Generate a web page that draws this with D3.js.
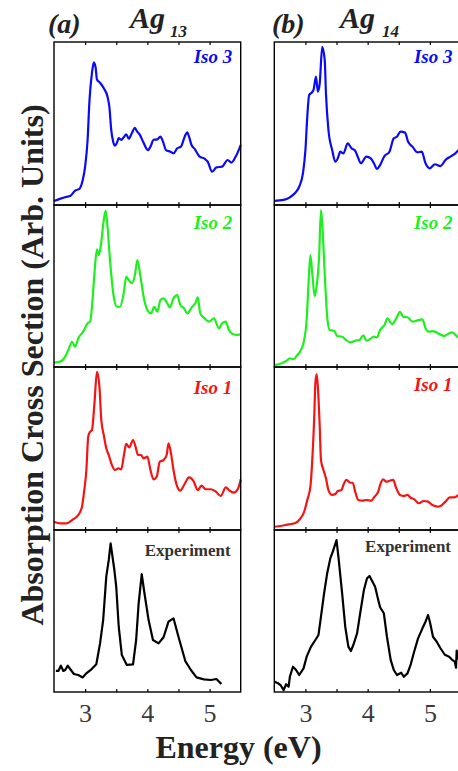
<!DOCTYPE html>
<html>
<head>
<meta charset="utf-8">
<script src="https://cdn.jsdelivr.net/npm/d3@7"></script>
<style>
  html, body { margin: 0; padding: 0; background: #fff; }
  svg { display: block; }
</style>
</head>
<body>
<svg id="chart" width="458" height="771"></svg>
<script>
// Energy axis ticks (eV)
const energyTicks = [3, 3.5, 4, 4.5, 5];
const energyTickLabels = [3, 4, 5];

// Ag13 spectra: [energy (eV), relative intensity]
const ag13Iso3 = [[2.5,0.025],[2.7,0.05],[2.76,0.055],[2.84,0.088],[2.91,0.1],[2.96,0.15],[3.0,0.235],[3.04,0.4],[3.07,0.64],[3.11,0.81],[3.14,0.875],[3.17,0.84],[3.19,0.77],[3.24,0.75],[3.3,0.716],[3.36,0.664],[3.39,0.6],[3.42,0.46],[3.45,0.39],[3.48,0.364],[3.51,0.38],[3.54,0.41],[3.58,0.4],[3.62,0.415],[3.66,0.434],[3.7,0.407],[3.75,0.44],[3.8,0.474],[3.83,0.454],[3.88,0.43],[3.93,0.39],[4.01,0.337],[4.05,0.358],[4.1,0.4],[4.16,0.403],[4.21,0.419],[4.25,0.39],[4.3,0.337],[4.37,0.327],[4.42,0.317],[4.48,0.348],[4.54,0.358],[4.6,0.419],[4.64,0.446],[4.67,0.419],[4.71,0.368],[4.76,0.344],[4.84,0.297],[4.92,0.284],[4.97,0.266],[5.04,0.204],[5.11,0.231],[5.2,0.235],[5.29,0.276],[5.35,0.26],[5.42,0.297],[5.5,0.368]];

const ag13Iso2 = [[2.5,0.027],[2.6,0.033],[2.68,0.064],[2.73,0.105],[2.79,0.156],[2.84,0.125],[2.89,0.177],[2.97,0.218],[3.04,0.27],[3.08,0.28],[3.11,0.372],[3.15,0.578],[3.19,0.726],[3.22,0.69],[3.25,0.743],[3.3,0.907],[3.33,0.965],[3.36,0.866],[3.4,0.66],[3.46,0.434],[3.51,0.372],[3.56,0.372],[3.62,0.455],[3.66,0.557],[3.7,0.537],[3.75,0.517],[3.8,0.568],[3.84,0.66],[3.89,0.557],[3.94,0.434],[4.0,0.352],[4.06,0.331],[4.11,0.372],[4.16,0.341],[4.21,0.414],[4.26,0.424],[4.32,0.393],[4.36,0.368],[4.42,0.424],[4.48,0.444],[4.53,0.383],[4.59,0.362],[4.64,0.331],[4.72,0.372],[4.77,0.393],[4.81,0.43],[4.85,0.331],[4.92,0.3],[4.99,0.28],[5.07,0.3],[5.15,0.239],[5.2,0.27],[5.26,0.28],[5.31,0.228],[5.37,0.204],[5.45,0.198],[5.5,0.204]];

const ag13Iso1 = [[2.5,0.051],[2.6,0.041],[2.7,0.041],[2.81,0.066],[2.89,0.092],[2.95,0.143],[2.98,0.225],[3.02,0.368],[3.05,0.572],[3.08,0.603],[3.11,0.613],[3.15,0.777],[3.19,0.971],[3.23,0.88],[3.26,0.675],[3.3,0.583],[3.34,0.501],[3.38,0.46],[3.43,0.399],[3.48,0.368],[3.54,0.378],[3.58,0.372],[3.62,0.45],[3.66,0.528],[3.71,0.507],[3.77,0.552],[3.81,0.511],[3.85,0.46],[3.9,0.46],[3.94,0.44],[4.0,0.45],[4.05,0.368],[4.1,0.311],[4.15,0.327],[4.2,0.419],[4.26,0.429],[4.31,0.46],[4.34,0.532],[4.38,0.47],[4.42,0.368],[4.48,0.266],[4.53,0.241],[4.59,0.276],[4.67,0.323],[4.74,0.302],[4.81,0.245],[4.87,0.272],[4.94,0.25],[5.02,0.25],[5.1,0.235],[5.18,0.209],[5.26,0.262],[5.31,0.245],[5.39,0.229],[5.46,0.256],[5.5,0.311]];

const ag13Exp = [[2.53,0.13],[2.57,0.13],[2.61,0.162],[2.65,0.13],[2.68,0.136],[2.72,0.162],[2.76,0.142],[2.82,0.111],[2.89,0.105],[2.96,0.09],[3.02,0.115],[3.09,0.136],[3.18,0.171],[3.24,0.3],[3.29,0.444],[3.34,0.712],[3.38,0.815],[3.41,0.918],[3.47,0.753],[3.5,0.65],[3.54,0.403],[3.59,0.228],[3.67,0.167],[3.77,0.171],[3.82,0.321],[3.86,0.547],[3.91,0.727],[3.95,0.619],[4.02,0.444],[4.09,0.321],[4.18,0.3],[4.26,0.338],[4.34,0.434],[4.42,0.455],[4.5,0.341],[4.61,0.191],[4.7,0.136],[4.79,0.09],[4.91,0.078],[5.02,0.074],[5.11,0.08],[5.19,0.049]];

// Ag14 spectra: [energy (eV), relative intensity]
const ag14Iso3 = [[2.5,0.025],[2.65,0.031],[2.75,0.047],[2.83,0.072],[2.9,0.112],[2.96,0.194],[3.0,0.337],[3.03,0.542],[3.06,0.675],[3.1,0.689],[3.13,0.706],[3.17,0.787],[3.2,0.695],[3.23,0.746],[3.27,0.971],[3.31,0.89],[3.33,0.685],[3.37,0.46],[3.43,0.337],[3.48,0.266],[3.52,0.286],[3.56,0.327],[3.61,0.317],[3.68,0.378],[3.74,0.348],[3.8,0.333],[3.84,0.297],[3.89,0.256],[3.98,0.297],[4.05,0.286],[4.1,0.256],[4.15,0.221],[4.2,0.245],[4.27,0.3],[4.35,0.327],[4.42,0.409],[4.47,0.419],[4.53,0.45],[4.6,0.444],[4.65,0.388],[4.72,0.358],[4.8,0.323],[4.87,0.327],[4.93,0.256],[5.0,0.225],[5.08,0.25],[5.17,0.239],[5.25,0.276],[5.33,0.297],[5.41,0.317],[5.46,0.337]];

const ag14Iso2 = [[2.5,0.012],[2.62,0.023],[2.7,0.039],[2.75,0.054],[2.81,0.048],[2.87,0.074],[2.94,0.115],[2.98,0.167],[3.02,0.29],[3.05,0.517],[3.08,0.691],[3.11,0.578],[3.15,0.438],[3.18,0.496],[3.22,0.681],[3.25,0.969],[3.27,0.887],[3.31,0.578],[3.35,0.31],[3.39,0.228],[3.46,0.224],[3.51,0.191],[3.59,0.187],[3.64,0.171],[3.72,0.152],[3.8,0.162],[3.87,0.167],[3.93,0.196],[3.98,0.162],[4.04,0.173],[4.1,0.187],[4.15,0.183],[4.2,0.228],[4.27,0.259],[4.32,0.3],[4.39,0.264],[4.46,0.3],[4.52,0.341],[4.57,0.31],[4.64,0.307],[4.72,0.28],[4.79,0.286],[4.88,0.294],[4.93,0.239],[4.98,0.218],[5.05,0.222],[5.15,0.204],[5.23,0.191],[5.29,0.204],[5.36,0.214],[5.41,0.198],[5.46,0.181]];

const ag14Iso1 = [[2.5,0.02],[2.62,0.026],[2.73,0.035],[2.83,0.041],[2.91,0.066],[2.98,0.112],[3.03,0.184],[3.08,0.266],[3.11,0.429],[3.14,0.675],[3.16,0.9],[3.18,0.957],[3.2,0.879],[3.23,0.634],[3.25,0.429],[3.29,0.368],[3.33,0.317],[3.37,0.245],[3.43,0.215],[3.48,0.221],[3.52,0.239],[3.58,0.245],[3.61,0.276],[3.66,0.307],[3.72,0.29],[3.76,0.29],[3.8,0.235],[3.85,0.184],[3.91,0.18],[3.98,0.184],[4.06,0.18],[4.11,0.204],[4.17,0.235],[4.2,0.276],[4.25,0.311],[4.3,0.296],[4.35,0.302],[4.41,0.307],[4.46,0.256],[4.52,0.215],[4.58,0.209],[4.64,0.215],[4.69,0.198],[4.75,0.188],[4.82,0.164],[4.9,0.178],[4.97,0.174],[5.04,0.153],[5.12,0.143],[5.18,0.149],[5.25,0.174],[5.32,0.2],[5.39,0.2],[5.46,0.215]];

const ag14Exp = [[2.5,0.064],[2.56,0.054],[2.6,0.043],[2.65,0.012],[2.69,0.048],[2.73,0.033],[2.75,0.094],[2.8,0.156],[2.85,0.136],[2.9,0.105],[2.97,0.146],[3.02,0.218],[3.09,0.28],[3.16,0.321],[3.21,0.352],[3.25,0.465],[3.3,0.609],[3.35,0.733],[3.4,0.825],[3.44,0.866],[3.5,0.938],[3.53,0.835],[3.59,0.609],[3.64,0.403],[3.69,0.28],[3.73,0.253],[3.77,0.29],[3.83,0.362],[3.88,0.486],[3.94,0.63],[3.99,0.702],[4.03,0.716],[4.07,0.687],[4.12,0.65],[4.17,0.568],[4.2,0.523],[4.26,0.486],[4.31,0.341],[4.37,0.198],[4.42,0.136],[4.47,0.105],[4.54,0.119],[4.58,0.094],[4.64,0.115],[4.69,0.167],[4.74,0.239],[4.81,0.331],[4.88,0.393],[4.93,0.434],[4.97,0.475],[5.0,0.434],[5.05,0.341],[5.11,0.31],[5.17,0.27],[5.24,0.23],[5.31,0.218],[5.36,0.198],[5.4,0.187],[5.42,0.15],[5.43,0.255],[5.46,0.2]];

// Panel layout: columns (x extent) and rows (y extent)
const columns = [
  { x0: 54, x1: 240.7 },
  { x0: 274.3, x1: 461 }
];
const rowEdges = [42, 205, 367, 530, 692];

const colors = { iso3: "#0a0af5", iso2: "#1ef01e", iso1: "#f51414", exp: "#000000" };

const panels = [
  { col: 0, row: 0, data: ag13Iso3, color: colors.iso3, label: "Iso 3", labelDy: 21 },
  { col: 0, row: 1, data: ag13Iso2, color: colors.iso2, label: "Iso 2", labelDy: 24 },
  { col: 0, row: 2, data: ag13Iso1, color: colors.iso1, label: "Iso 1", labelDy: 27 },
  { col: 0, row: 3, data: ag13Exp,  color: colors.exp,  label: "Experiment", labelDy: 26, exp: true },
  { col: 1, row: 0, data: ag14Iso3, color: colors.iso3, label: "Iso 3", labelDy: 21 },
  { col: 1, row: 1, data: ag14Iso2, color: colors.iso2, label: "Iso 2", labelDy: 24 },
  { col: 1, row: 2, data: ag14Iso1, color: colors.iso1, label: "Iso 1", labelDy: 24 },
  { col: 1, row: 3, data: ag14Exp,  color: colors.exp,  label: "Experiment", labelDy: 22, exp: true }
];

const svg = d3.select("#chart");
const serif = "'Liberation Serif', 'Times New Roman', serif";

panels.forEach(p => {
  const c = columns[p.col];
  const top = rowEdges[p.row], bottom = rowEdges[p.row + 1];
  const x = d3.scaleLinear().domain([2.5, 5.5]).range([c.x0, c.x1]);
  const y = d3.scaleLinear().domain([0, 1]).range([bottom, top]);
  const g = svg.append("g");

  // spectrum line
  const line = d3.line()
    .x(d => x(d[0]))
    .y(d => y(d[1]))
    .curve(p.exp ? d3.curveLinear : d3.curveMonotoneX);
  g.append("path")
    .datum(p.data)
    .attr("d", line)
    .attr("fill", "none")
    .attr("stroke", p.color)
    .attr("stroke-width", 2.2)
    .attr("stroke-linejoin", "round");

  // inward ticks on top and bottom edges
  const topAxis = d3.axisBottom(x).tickValues(energyTicks).tickSize(3).tickFormat("");
  const botAxis = d3.axisTop(x).tickValues(energyTicks).tickSize(3).tickFormat("");
  g.append("g").attr("transform", `translate(0,${top})`).call(topAxis)
    .call(a => a.select(".domain").remove())
    .selectAll("line").attr("stroke", "#000").attr("stroke-width", 1.2);
  g.append("g").attr("transform", `translate(0,${bottom})`).call(botAxis)
    .call(a => a.select(".domain").remove())
    .selectAll("line").attr("stroke", "#000").attr("stroke-width", 1.2);

  // frame
  g.append("rect")
    .attr("x", c.x0).attr("y", top)
    .attr("width", c.x1 - c.x0).attr("height", bottom - top)
    .attr("fill", "none").attr("stroke", "#000").attr("stroke-width", 1.4);

  // panel label
  g.append("text")
    .attr("x", p.exp ? c.x1 - 10 : c.x1 - 8.5)
    .attr("y", top + p.labelDy)
    .attr("text-anchor", "end")
    .attr("font-family", serif)
    .attr("font-weight", "bold")
    .attr("font-style", p.exp ? "normal" : "italic")
    .attr("font-size", p.exp ? 17 : 19)
    .attr("fill", p.exp ? "#333" : p.color)
    .text(p.label);

  // tick labels on the bottom row
  if (p.row === 3) {
    const lab = d3.axisBottom(x).tickValues(energyTickLabels).tickSize(0).tickPadding(0).tickFormat(d3.format("d"));
    const la = g.append("g").attr("transform", `translate(0,${bottom})`).call(lab);
    la.select(".domain").remove();
    la.selectAll("text")
      .attr("y", 30).attr("dy", null)
      .attr("font-family", serif)
      .attr("font-size", 26)
      .attr("fill", "#3a3a3a");
  }
});

// column titles
const titles = [
  { tag: "(a)", tagX: 48, main: "Ag", mainX: 130, sub: "13", subX: 170 },
  { tag: "(b)", tagX: 272, main: "Ag", mainX: 340, sub: "14", subX: 382 }
];
titles.forEach(t => {
  svg.append("text").attr("x", t.tagX).attr("y", 33)
    .attr("font-family", serif).attr("font-weight", "bold").attr("font-style", "italic")
    .attr("font-size", 28).attr("fill", "#222").text(t.tag);
  svg.append("text").attr("x", t.mainX).attr("y", 28)
    .attr("font-family", serif).attr("font-weight", "bold").attr("font-style", "italic")
    .attr("font-size", 30).attr("fill", "#222").text(t.main);
  svg.append("text").attr("x", t.subX).attr("y", 37)
    .attr("font-family", serif).attr("font-weight", "bold").attr("font-style", "italic")
    .attr("font-size", 17).attr("fill", "#222").text(t.sub);
});

// axis titles
svg.append("text")
  .attr("x", 238.5).attr("y", 758)
  .attr("text-anchor", "middle")
  .attr("font-family", serif).attr("font-weight", "bold")
  .attr("font-size", 32).attr("fill", "#222")
  .text("Energy (eV)");

svg.append("text")
  .attr("transform", "translate(43,365) rotate(-90)")
  .attr("text-anchor", "middle")
  .attr("font-family", serif).attr("font-weight", "bold")
  .attr("font-size", 32).attr("fill", "#222")
  .text("Absorption Cross Section (Arb. Units)");
</script>
</body>
</html>
